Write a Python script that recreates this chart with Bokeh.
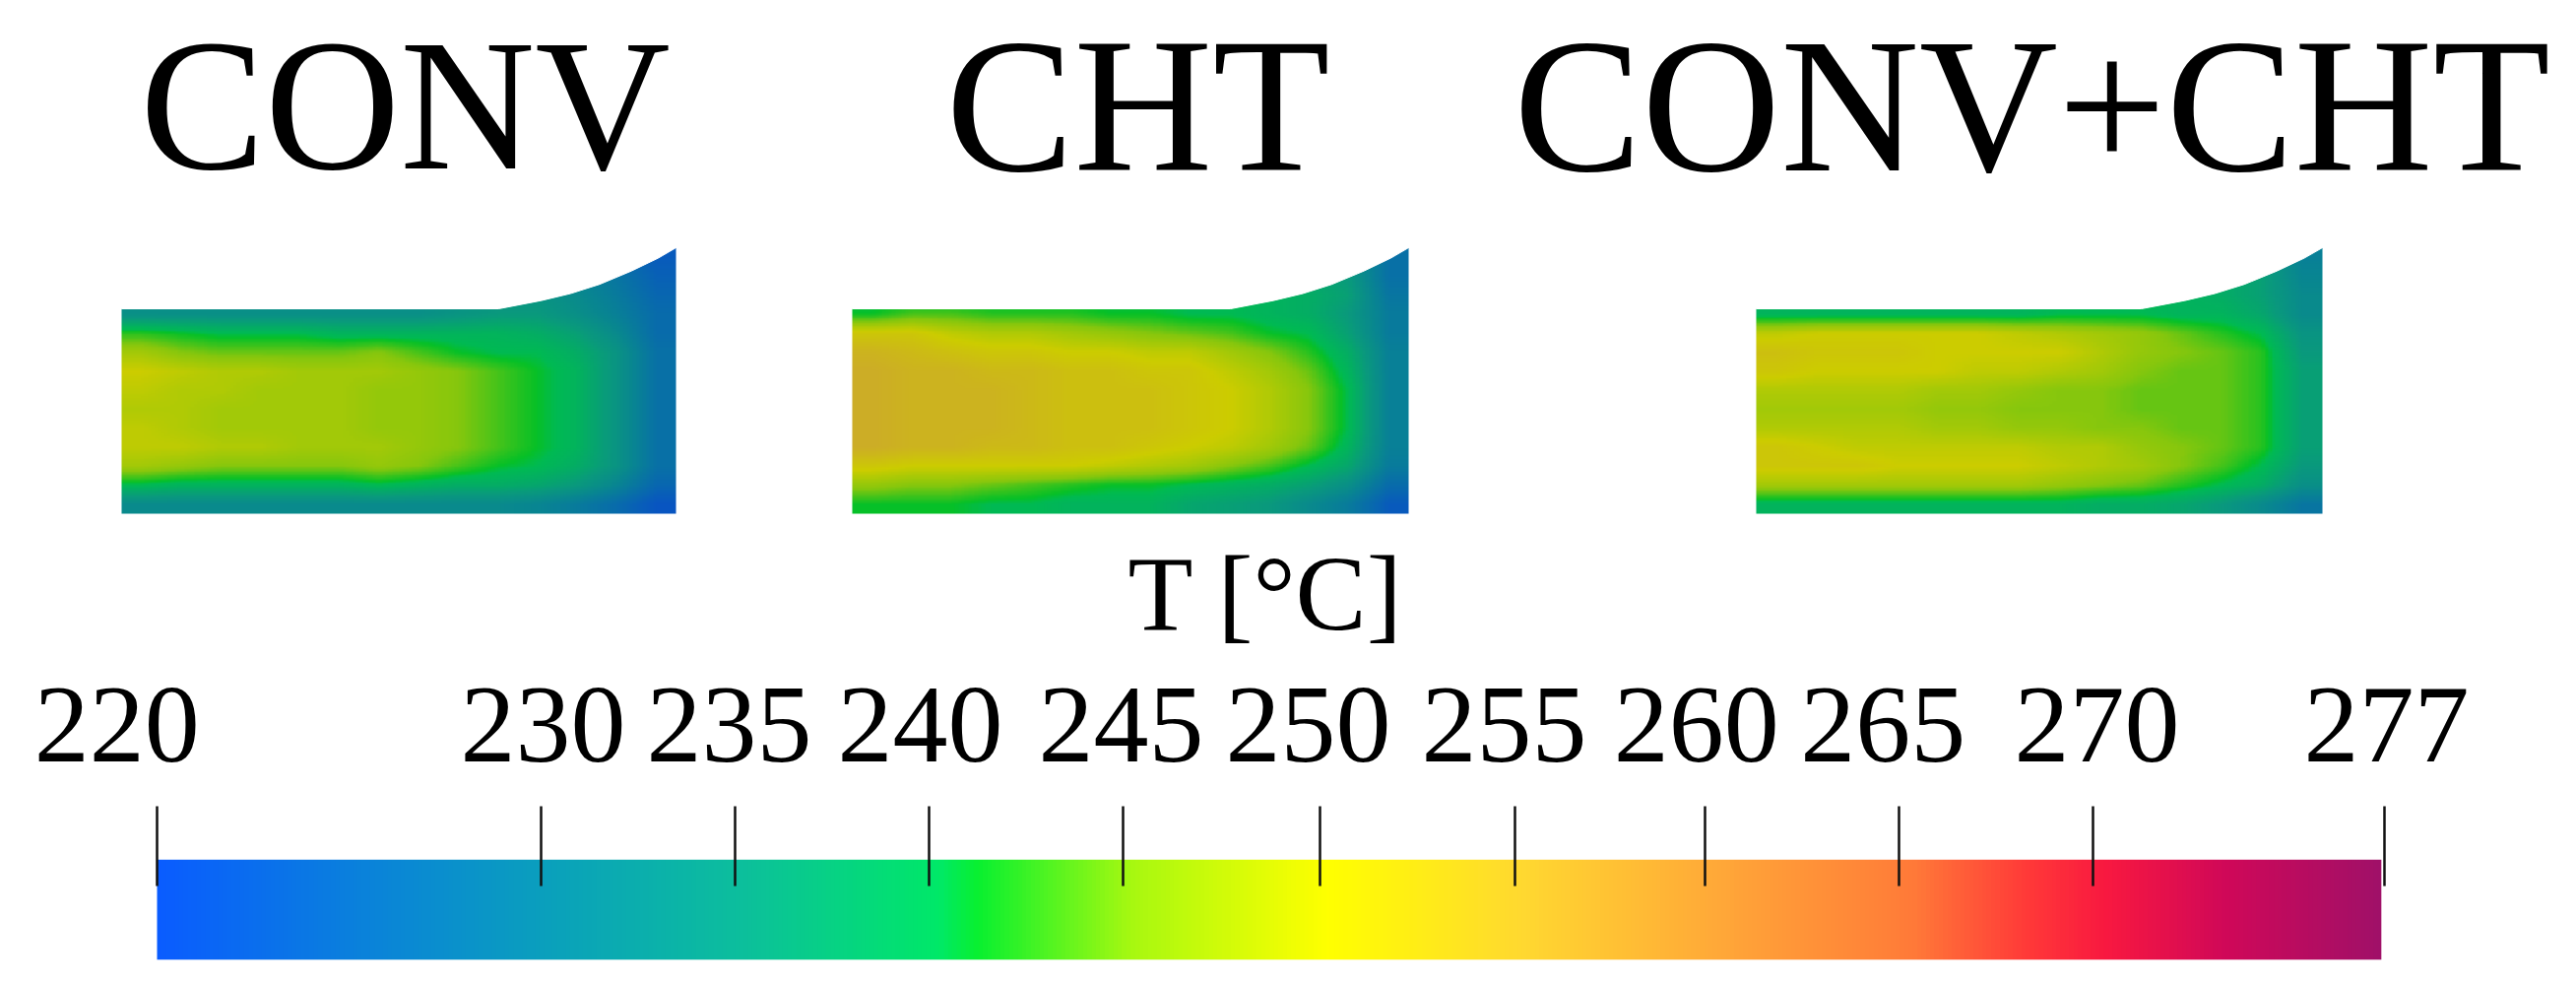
import numpy as np
from bokeh.plotting import figure
from bokeh.layouts import column
from bokeh.models import Range1d, LinearAxis, FixedTicker, LinearColorMapper
from bokeh.core.properties import value
from bokeh.embed import file_html
from bokeh.resources import INLINE

panel_titles = ["CONV", "CHT", "CONV+CHT"]
unit_label = "T [°C]"
tick_labels = ["220", "230", "235", "240", "245", "250", "255", "260", "265", "270", "277"]
tick_pos = [220, 229.83, 234.79, 239.76, 244.72, 249.76, 254.75, 259.61, 264.58, 269.54, 277]
label_pos = [218.97, 229.88, 234.64, 239.53, 244.67, 249.46, 254.47, 259.39, 264.17, 269.64, 277.05]

color_temps = [220, 225, 230, 235, 240, 241, 245, 250, 255, 260, 265, 268, 270, 273, 277]
color_stops = ["#0a5cff", "#0a80dc", "#0aa0bc", "#0cbf9c", "#00e868", "#08f030", "#a8f810", "#ffff00",
               "#ffd830", "#ffa838", "#ff7a38", "#ff3838", "#f81840", "#d00858", "#a01068"]

profile_x = [0, .68, .757, .81, .862, .92, .968, 1.0]
profile_h = [0, 0, .135, .25, .40, .62, .83, 1.0]

field_conv = [
 [232,232,232,232,232,232,232,232,232,232,230,228,226,223],
 [232,232,232,232,232,232,232,232,232,232,232,231,228,224],
 [233,233,233,233,233,233,233,233,233,234,234,232,229,225],
 [233,233,233,233,233,233,233,233,234,235,235,233,230,226],
 [242,241,240,240,240,239,239,239,239,239,238,236,232,226],
 [247,245,244,244,244,244,245,243,241,240,240,238,234,227],
 [250,249,248,248,247,247,247,246,245,243,241,239,234,227],
 [249,248,248,247,247,247,246,246,245,243,241,239,234,227],
 [248,248,247,247,247,247,246,246,245,243,241,239,234,227],
 [249,248,247,247,247,247,246,246,245,243,241,239,234,227],
 [249,249,248,248,247,247,247,246,245,243,241,239,234,227],
 [247,246,245,245,245,245,246,245,243,241,240,238,234,227],
 [240,239,239,239,239,239,240,239,238,238,237,235,231,225],
 [232,232,232,232,232,232,232,232,232,232,231,229,226,222],
]
field_cht = [
 [240,240,240,240,240,240,240,240,240,240,239,237,234,227],
 [240,240,240,240,240,240,240,240,240,240,239,237,235,227],
 [240,240,240,240,240,240,240,240,240,240,239,238,236,228],
 [241,243,243,242,242,242,241,241,240,240,239,238,235,229],
 [251,251,249,248,248,247,246,245,244,243,241,240,236,229],
 [254,253,252,251,251,250,250,249,249,247,245,242,238,230],
 [255,254,254,253,253,252,252,251,251,249,247,244,239,230],
 [255,254,254,254,253,252,252,252,251,250,248,245,240,230],
 [255,254,254,254,253,252,252,252,251,250,248,245,240,230],
 [255,254,254,254,253,252,252,252,251,250,248,245,240,230],
 [255,254,254,253,253,252,252,251,250,249,247,244,239,230],
 [251,250,250,250,250,250,249,248,247,245,243,240,237,229],
 [246,245,245,244,243,242,241,241,240,239,238,236,233,226],
 [241,241,241,240,240,239,239,239,237,236,235,232,229,223],
]
field_both = [
 [239,239,239,239,239,239,239,239,239,239,239,238,236,230],
 [239,239,239,239,239,239,239,239,239,239,239,238,236,231],
 [239,239,239,239,239,239,239,239,239,239,239,238,236,232],
 [239,239,239,239,239,239,239,240,240,240,239,239,237,232],
 [249,250,250,250,250,250,249,248,247,246,244,242,240,234],
 [252,251,251,251,250,250,250,250,248,246,245,244,242,235],
 [251,250,250,250,250,249,249,248,247,245,244,244,242,236],
 [248,248,248,248,247,247,246,245,245,244,244,244,242,236],
 [247,247,247,247,246,246,245,245,245,244,244,244,242,236],
 [248,248,248,248,247,247,246,246,245,245,244,244,242,236],
 [251,250,249,249,249,249,249,248,248,246,245,244,242,236],
 [251,251,251,250,250,250,250,249,248,247,245,243,240,235],
 [247,247,247,247,247,247,247,246,245,244,242,240,238,233],
 [239,239,239,239,239,239,239,239,238,238,237,235,232,228],
]

# ---------- colour maps
def hex2rgb(h):
    return [int(h[i:i + 2], 16) for i in (1, 3, 5)]

stops = np.array([hex2rgb(c) for c in color_stops], float)
ramp = np.linspace(220, 277, 512)
rgb = np.stack([np.interp(ramp, color_temps, stops[:, i]) for i in range(3)], axis=1)
to_hex = lambda a: ["#%02x%02x%02x" % tuple(int(round(v)) for v in row) for row in a]
bar_mapper = LinearColorMapper(palette=to_hex(rgb), low=220, high=277)
field_mapper = LinearColorMapper(palette=to_hex(rgb * 0.8), low=220, high=277)

def smooth(field, factor=12):
    """Display resampling only: the image glyph draws cells as hard blocks."""
    a = np.array(field, float)
    rows, cols = a.shape
    rr = (np.arange(rows * factor) + .5) / factor - .5
    cc = (np.arange(cols * factor) + .5) / factor - .5
    a = np.stack([np.interp(cc, np.arange(cols), row) for row in a])
    a = np.stack([np.interp(rr, np.arange(rows), col) for col in a.T], axis=1)
    return a

# ---------- upper figure: page pixels, y measured downward from the page top
TOP_H = 672
BOT_H = 322
FONT = value("Liberation Serif")

top = figure(width=2600, height=TOP_H, x_range=Range1d(0, 2600), y_range=Range1d(0, TOP_H),
             output_backend="svg", toolbar_location=None, x_axis_type=None, y_axis_type=None,
             min_border=0, outline_line_color=None)
top.grid.visible = False
Y = lambda y: TOP_H - y

panels = [(field_conv, 123, 686), (field_cht, 865, 1430), (field_both, 1783, 2358)]
for field, x0, x1 in panels:
    top_edge, bottom_edge, peak = 313, 521, 251
    arr = smooth(field)[::-1]
    top.image(image=[arr], x=x0, y=Y(bottom_edge), dw=x1 - x0, dh=bottom_edge - peak, color_mapper=field_mapper)
    px = [x0 + f * (x1 - x0) for f in profile_x]
    py = [Y(top_edge - h * (top_edge - peak)) for h in profile_h]
    mx = [x0 - 6] + px + [x1 + 6, x1 + 6, x0 - 6]
    my = [py[0]] + py + [py[-1], Y(peak - 8), Y(peak - 8)]
    top.patch(mx, my, fill_color="white", line_color="white", line_width=1)

title_x = [411, 1155, 2063]
title_size = ["190px", "195px", "195px"]
for tx, tt, ts in zip(title_x, panel_titles, title_size):
    top.text(x=[tx], y=[Y(106)], text=[tt], text_font=FONT, text_font_size=ts,
             text_align="center", text_baseline="middle", text_color="black")
top.text(x=[1285], y=[Y(602)], text=[unit_label], text_font=FONT, text_font_size="108px",
         text_align="center", text_baseline="middle", text_color="black")

# ---------- lower figure: the colour bar with its value axis
k = 57 / 2262
bot = figure(width=2600, height=BOT_H, x_range=Range1d(220 - 159 * k, 277 + 179 * k), y_range=Range1d(0, 1),
             output_backend="svg", toolbar_location=None, x_axis_type=None, y_axis_type=None,
             min_border_left=0, min_border_right=0, min_border_top=200, min_border_bottom=20,
             outline_line_color=None)
bot.grid.visible = False
bot.image(image=[ramp[None, :]], x=220, y=0, dw=56.92, dh=1, color_mapper=bar_mapper)

tick_axis = LinearAxis(ticker=FixedTicker(ticks=tick_pos), axis_line_color=None,
                       major_tick_out=54, major_tick_in=27, major_tick_line_color="#111111",
                       major_tick_line_width=2.5, minor_tick_line_color=None,
                       major_label_overrides={t: "" for t in tick_pos}, major_label_standoff=0)
label_axis = LinearAxis(ticker=FixedTicker(ticks=label_pos), axis_line_color=None,
                        major_tick_line_color=None, minor_tick_line_color=None,
                        major_tick_out=0, major_tick_in=0,
                        major_label_overrides=dict(zip(label_pos, tick_labels)),
                        major_label_standoff=46, major_label_text_font="Liberation Serif",
                        major_label_text_font_size="112px", major_label_text_color="black")
bot.add_layout(tick_axis, "above")
bot.add_layout(label_axis, "above")

page = column(top, bot, spacing=0)
open("out.html", "w").write(file_html(page, INLINE))
